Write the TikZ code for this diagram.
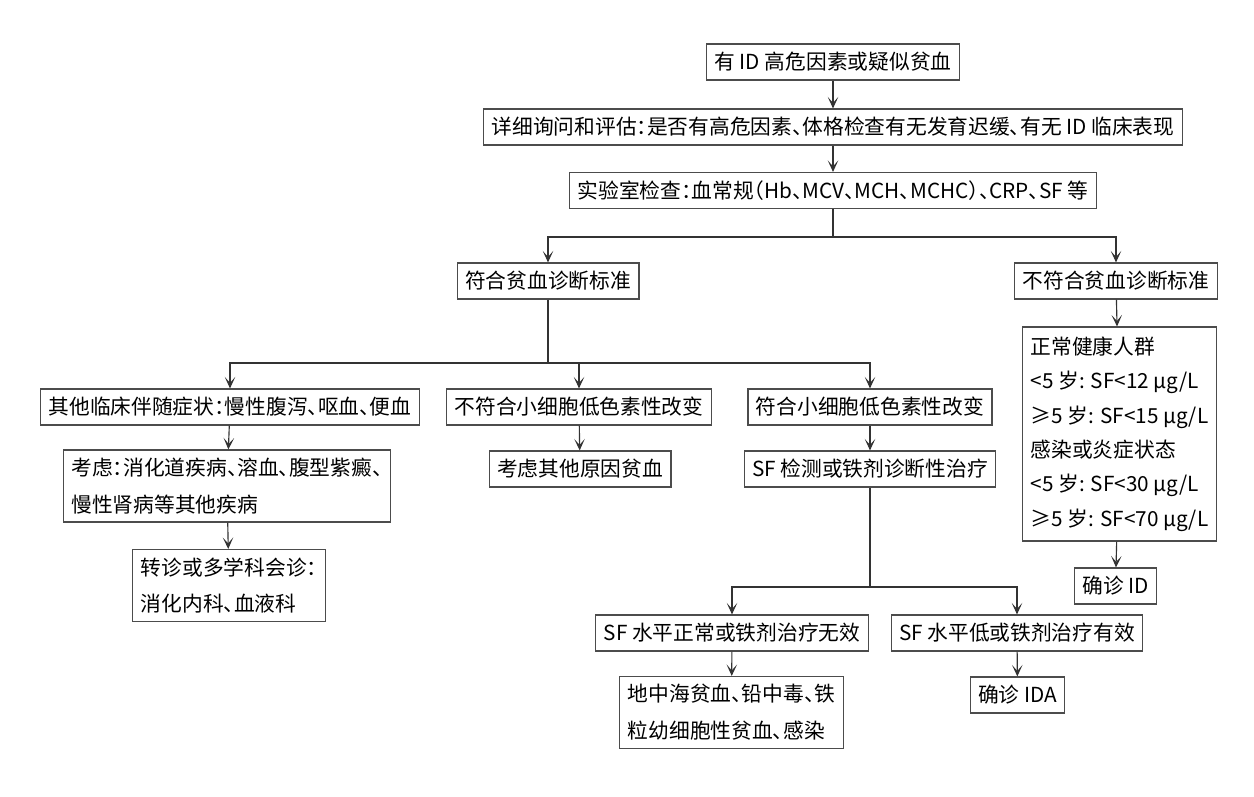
\documentclass[tikz,border=0pt]{standalone}
\usepackage{fontspec}
\setmainfont{Noto Sans CJK SC}[RawFeature=+halt]
\usetikzlibrary{arrows.meta}

\begin{document}
\begin{tikzpicture}[x=0.02cm,y=-0.02cm,
  box/.style={draw=black!70,line width=.65pt,align=center,inner xsep=.16cm,inner ysep=2pt,
    minimum height=.72cm,font=\fontsize{11.8pt}{21pt}\selectfont},
  tall/.style={box,align=left,minimum height=1.44cm},
  flow/.style={-{Stealth[length=2.3mm,width=2.1mm,inset=1.2mm]},line width=.65pt,black!80},
  link/.style={line width=.65pt,black!80}]
\useasboundingbox (0,0) rectangle (1254,797);
% main column
\node[box] (risk) at (833,62) {有 ID 高危因素或疑似贫血};
\node[box] (assess) at (833,127) {详细询问和评估：是否有高危因素、体格检查有无发育迟缓、有无 ID 临床表现};
\node[box] (lab) at (833,190.5) {实验室检查：血常规（Hb、MCV、MCH、MCHC）、CRP、SF 等};
\node[box] (anemia) at (548,281) {符合贫血诊断标准};
\node[box] (noanemia) at (1116,281) {不符合贫血诊断标准};
% anemia branches
\node[box] (other) at (230,407) {其他临床伴随症状：慢性腹泻、呕血、便血};
\node[tall] (consider) at (227,486) {考虑：消化道疾病、溶血、腹型紫癜、\\慢性肾病等其他疾病};
\node[tall] (refer) at (229,585.5) {转诊或多学科会诊：\\消化内科、血液科};
\node[box] (nonmicro) at (579,407) {不符合小细胞低色素性改变};
\node[box] (othercause) at (580,469) {考虑其他原因贫血};
\node[box] (micro) at (870,407) {符合小细胞低色素性改变};
\node[box] (sftest) at (870,469) {SF 检测或铁剂诊断性治疗};
\node[box] (sfnormal) at (732,633) {SF 水平正常或铁剂治疗无效};
\node[box] (sflow) at (1017,633) {SF 水平低或铁剂治疗有效};
\node[tall] (thal) at (731.5,712.5) {地中海贫血、铅中毒、铁\\粒幼细胞性贫血、感染};
\node[box] (ida) at (1017.5,695) {确诊 IDA};
% no anemia
\node[box,align=left,minimum height=4.28cm,font=\fontsize{11.8pt}{19.6pt}\selectfont] (normal) at (1119.5,434)
  {正常健康人群\\<5 岁: SF<12 μg/L\\≥5 岁: SF<15 μg/L\\感染或炎症状态\\<5 岁: SF<30 μg/L\\≥5 岁: SF<70 μg/L};
\node[box] (idconf) at (1115.5,586) {确诊 ID};

\coordinate (s1) at (833,237);
\coordinate (s2) at (548,363);
\coordinate (s3) at (870,587);
\draw[flow] (risk)--(assess);
\draw[flow] (assess)--(lab);
\draw[link] (lab)--(s1);
\draw[flow] (s1)-|(anemia);
\draw[flow] (s1)-|(noanemia);
\draw[link] (anemia)--(s2);
\draw[flow] (s2)-|(other);
\draw[flow] (s2)-|(nonmicro);
\draw[flow] (s2)-|(micro);
\draw[flow] (other)--(consider);
\draw[flow] (consider)--(refer);
\draw[flow] (nonmicro)--(othercause);
\draw[flow] (micro)--(sftest);
\draw[link] (sftest)--(s3);
\draw[flow] (s3)-|(sfnormal);
\draw[flow] (s3)-|(sflow);
\draw[flow] (sfnormal)--(thal);
\draw[flow] (sflow)--(ida);
\draw[flow] (noanemia)--(normal);
\draw[flow] (normal)--(idconf);
\end{tikzpicture}
\end{document}
